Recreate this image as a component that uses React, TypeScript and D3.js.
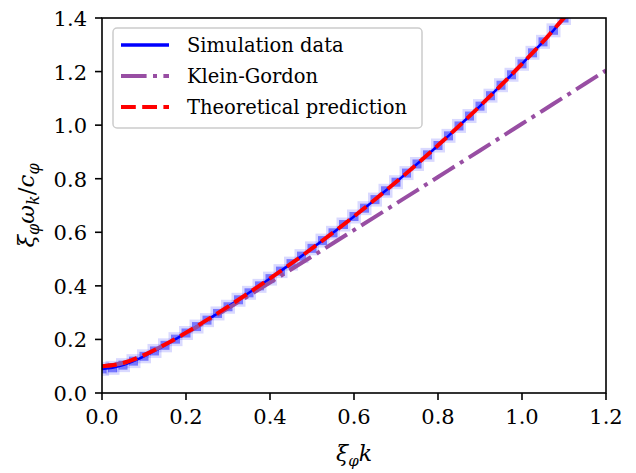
import React from "react";
import * as d3 from "d3";

const W = 636;
const H = 473;

const xTicks = [0.0, 0.2, 0.4, 0.6, 0.8, 1.0, 1.2];
const yTicks = [0.0, 0.2, 0.4, 0.6, 0.8, 1.0, 1.2, 1.4];

const simK = [
  0, 0.025, 0.05, 0.075, 0.1, 0.125, 0.15, 0.175, 0.2, 0.225, 0.25, 0.275, 0.3, 0.325, 0.35, 0.375,
  0.4, 0.425, 0.45, 0.475, 0.5, 0.525, 0.55, 0.575, 0.6, 0.625, 0.65, 0.675, 0.7, 0.725, 0.75, 0.775,
  0.8, 0.825, 0.85, 0.875, 0.9, 0.925, 0.95, 0.975, 1.0, 1.025, 1.05, 1.075, 1.1,
];
const simOmega = [
  0.09, 0.094, 0.104, 0.119, 0.137, 0.157, 0.178, 0.201, 0.224, 0.248, 0.272, 0.297, 0.322, 0.348, 0.374, 0.4,
  0.427, 0.455, 0.483, 0.511, 0.54, 0.569, 0.598, 0.629, 0.659, 0.69, 0.722, 0.755, 0.787, 0.821, 0.855, 0.889,
  0.924, 0.96, 0.997, 1.034, 1.071, 1.11, 1.149, 1.188, 1.229, 1.27, 1.311, 1.354, 1.4,
];

const curveK = [
  0, 0.05, 0.1, 0.15, 0.2, 0.25, 0.3, 0.35, 0.4, 0.45, 0.5, 0.55, 0.6, 0.65, 0.7, 0.75, 0.8, 0.85, 0.9,
  0.95, 1.0, 1.05, 1.1, 1.15, 1.2,
];
const kleinGordon = [
  0.1, 0.1118, 0.1414, 0.1803, 0.2236, 0.2693, 0.3162, 0.364, 0.4123, 0.461, 0.5099, 0.559, 0.6083, 0.6576,
  0.7071, 0.7566, 0.8062, 0.8559, 0.9055, 0.9552, 1.005, 1.0548, 1.1045, 1.1543, 1.2042,
];
const theory = [
  0.1, 0.1118, 0.1416, 0.181, 0.2254, 0.2729, 0.3226, 0.3742, 0.4276, 0.4827, 0.5397, 0.5985, 0.6594, 0.7223,
  0.7874, 0.8548, 0.9246, 0.9968, 1.0715, 1.1488, 1.2288, 1.3116, 1.4007, 1.4856, 1.5744,
];

const M = { left: 102, right: 606, top: 18, bottom: 393 };
const FONT = "DejaVu Serif, serif";
const BLUE = "#0000ff";
const PURPLE = "#984ea3";
const RED = "#ff0000";

export default function App() {
  const x = d3.scaleLinear().domain([0, 1.2]).range([M.left, M.right]);
  const y = d3.scaleLinear().domain([0, 1.4]).range([M.bottom, M.top]);

  const line = d3
    .line<[number, number]>()
    .x((d) => x(d[0]))
    .y((d) => y(d[1]))
    .curve(d3.curveMonotoneX);

  const simPts: [number, number][] = simK.map((k, i) => [k, simOmega[i]]);
  const kgPts: [number, number][] = curveK.map((k, i) => [k, kleinGordon[i]]);
  const thPts: [number, number][] = curveK.map((k, i) => [k, theory[i]]);

  const red = "14.8 6.4";
  const dashdot = "25.6 6.4 4 6.4";

  return (
    <svg width={W} height={H} style={{ display: "block", position: "absolute", left: 0, top: 0 }}>
      <rect x={0} y={0} width={W} height={H} fill="#fff" />
      <defs>
        <clipPath id="plotclip">
          <rect x={M.left} y={M.top} width={M.right - M.left} height={M.bottom - M.top} />
        </clipPath>
      </defs>
      <g clipPath="url(#plotclip)">
        {simPts.map((p, i) => (
          <rect
            key={"l" + i}
            x={x(p[0]) - 7}
            y={y(p[1]) - 7}
            width={14}
            height={14}
            fill={BLUE}
            fillOpacity={0.15}
          />
        ))}
        {simPts.map((p, i) => (
          <rect
            key={"d" + i}
            x={x(p[0]) - 4.5}
            y={y(p[1]) - 4.5}
            width={9}
            height={9}
            fill={BLUE}
            fillOpacity={0.45}
          />
        ))}
        <path d={line(simPts) || ""} fill="none" stroke={BLUE} strokeWidth={2.5} />
        <path d={line(kgPts) || ""} fill="none" stroke={PURPLE} strokeWidth={4} strokeDasharray={dashdot} />
        <path d={line(thPts) || ""} fill="none" stroke={RED} strokeWidth={4} strokeDasharray={red} />
      </g>
      <rect
        x={M.left}
        y={M.top}
        width={M.right - M.left}
        height={M.bottom - M.top}
        fill="none"
        stroke="#000"
        strokeWidth={1.6}
      />
      {xTicks.map((t) => (
        <g key={"x" + t}>
          <line x1={x(t)} x2={x(t)} y1={M.bottom} y2={M.bottom + 7} stroke="#000" strokeWidth={1.6} />
          <text x={x(t)} y={M.bottom + 31} textAnchor="middle" fontFamily={FONT} fontSize={21} fill="#000">
            {t.toFixed(1)}
          </text>
        </g>
      ))}
      {yTicks.map((t) => (
        <g key={"y" + t}>
          <line x1={M.left - 7} x2={M.left} y1={y(t)} y2={y(t)} stroke="#000" strokeWidth={1.6} />
          <text x={M.left - 15} y={y(t) + 8} textAnchor="end" fontFamily={FONT} fontSize={21} fill="#000">
            {t.toFixed(1)}
          </text>
        </g>
      ))}
      <text x={(M.left + M.right) / 2} y={461} textAnchor="middle" fontFamily={FONT} fontSize={22} fontStyle="italic">
        ξ<tspan fontSize={15} dy={5}>φ</tspan>
        <tspan dy={-5}>k</tspan>
      </text>
      <text
        transform={`translate(34, ${(M.top + M.bottom) / 2}) rotate(-90)`}
        textAnchor="middle"
        fontFamily={FONT}
        fontSize={23}
        fontStyle="italic"
      >
        ξ<tspan fontSize={16} dy={5}>φ</tspan>
        <tspan dy={-5}>ω</tspan>
        <tspan fontSize={16} dy={5}>k</tspan>
        <tspan dy={-5} fontStyle="normal">/</tspan>
        <tspan>c</tspan>
        <tspan fontSize={16} dy={5}>φ</tspan>
      </text>
      <g>
        <rect x={113} y={28} width={309} height={100} rx={4} fill="#fff" fillOpacity={0.85} stroke="#cccccc" strokeWidth={1.5} />
        <line x1={121} x2={169} y1={45} y2={45} stroke={BLUE} strokeWidth={3.5} />
        <line x1={121} x2={169} y1={76} y2={76} stroke={PURPLE} strokeWidth={4} strokeDasharray={dashdot} />
        <line x1={121} x2={169} y1={107} y2={107} stroke={RED} strokeWidth={4} strokeDasharray={red} />
        <text x={187} y={52} fontFamily={FONT} fontSize={19.5}>Simulation data</text>
        <text x={187} y={83} fontFamily={FONT} fontSize={19.5}>Klein-Gordon</text>
        <text x={187} y={114} fontFamily={FONT} fontSize={19.5}>Theoretical prediction</text>
      </g>
    </svg>
  );
}
